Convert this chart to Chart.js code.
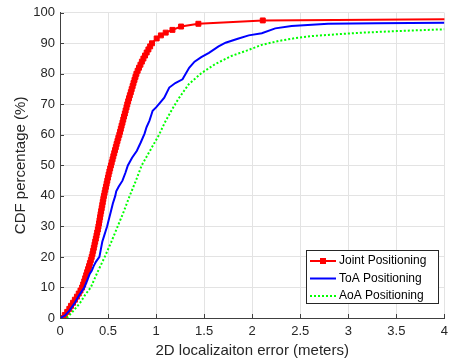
<!DOCTYPE html>
<html>
<head>
<meta charset="utf-8">
<script src="https://cdn.jsdelivr.net/npm/chart.js"></script>
<style>
  body { margin: 0; background: #fff; }
</style>
</head>
<body>
<canvas id="cdfChart" width="454" height="360"></canvas>
<script>
const jointColor = "#ff0000"
const toaColor = "#0000ff"
const aoaColor = "#00ff00"
const gridColor = "#e3e3e3"
const axisColor = "#404040"
const textColor = "#262626"

// Joint positioning CDF (error in meters, percentage)
const jointX = [0, 0.05, 0.075, 0.097, 0.115, 0.136, 0.155, 0.176, 0.195, 0.213,
    0.23, 0.241, 0.252, 0.262, 0.272, 0.282, 0.292, 0.302, 0.311, 0.321,
    0.33, 0.338, 0.345, 0.352, 0.359, 0.366, 0.373, 0.38, 0.387, 0.394,
    0.40, 0.406, 0.411, 0.417, 0.422, 0.428, 0.434, 0.44, 0.445, 0.451,
    0.457, 0.464, 0.471, 0.478, 0.485, 0.492, 0.499, 0.506, 0.514, 0.522,
    0.53, 0.538, 0.547, 0.555, 0.564, 0.572, 0.581, 0.589, 0.598, 0.607,
    0.617, 0.625, 0.633, 0.641, 0.65, 0.658, 0.666, 0.675, 0.683, 0.692,
    0.70, 0.709, 0.718, 0.727, 0.737, 0.746, 0.756, 0.765, 0.775, 0.785,
    0.795, 0.808, 0.822, 0.837, 0.852, 0.868, 0.885, 0.902, 0.92, 0.938,
    0.957, 1.006, 1.05, 1.10, 1.17, 1.26, 1.44, 2.11, 4.6]
const jointY = [0, 1, 2, 3, 4, 5, 6, 7, 8, 9,
    10, 11, 12, 13, 14, 15, 16, 17, 18, 19,
    20, 21, 22, 23, 24, 25, 26, 27, 28, 29,
    30, 31, 32, 33, 34, 35, 36, 37, 38, 39,
    40, 41, 42, 43, 44, 45, 46, 47, 48, 49,
    50, 51, 52, 53, 54, 55, 56, 57, 58, 59,
    60, 61, 62, 63, 64, 65, 66, 67, 68, 69,
    70, 71, 72, 73, 74, 75, 76, 77, 78, 79,
    80, 81, 82, 83, 84, 85, 86, 87, 88, 89,
    90, 91.6, 92.6, 93.5, 94.4, 95.5, 96.4, 97.5, 98.0]

// ToA positioning CDF
const toaX = [0, 0.05, 0.10, 0.155, 0.2, 0.253, 0.285, 0.31, 0.33, 0.35, 0.375, 0.41, 0.425, 0.44, 0.46, 0.475, 0.49, 0.51, 0.53, 0.55, 0.575, 0.585, 0.61, 0.65, 0.68, 0.706, 0.75, 0.80, 0.84, 0.88, 0.90, 0.93, 0.95, 0.964, 1.0, 1.04, 1.085, 1.137, 1.2, 1.275, 1.344, 1.40, 1.47, 1.55, 1.65, 1.723, 1.85, 1.964, 2.1, 2.24, 2.41, 2.79, 3.3, 4]
const toaY = [0, 0.8, 2.5, 5, 7.5, 10, 12.5, 14.5, 15.5, 17, 18.5, 20, 22.5, 25, 27, 28.5, 30, 32.5, 35, 37.5, 40, 41.5, 43, 45, 47.5, 50, 52.5, 54.8, 57.5, 60.4, 62.5, 64.6, 66.5, 67.9, 69, 70.5, 72.2, 75.5, 77, 78.2, 82, 84, 85.5, 86.9, 89, 90.2, 91.5, 92.6, 93.3, 94.9, 95.7, 96.4, 96.6, 96.7]

// AoA positioning CDF
const aoaX = [0.07, 0.13, 0.21, 0.26, 0.32, 0.39, 0.465, 0.535, 0.60, 0.665, 0.725, 0.79, 0.85, 0.94, 1.03, 1.09, 1.16, 1.23, 1.34, 1.47, 1.61, 1.78, 1.95, 2.1, 2.28, 2.45, 2.63, 2.9, 3.15, 3.5, 4]
const aoaY = [0, 2, 5, 7.5, 10, 15, 20, 25, 30, 35, 40, 45, 50, 55, 60, 64, 68, 71.7, 76.6, 80.2, 83.1, 85.8, 87.7, 89.5, 90.8, 91.7, 92.4, 93, 93.5, 94, 94.6]

const toPoints = (xs, ys) => xs.map((x, i) => ({ x: x, y: ys[i] }))

// short tick marks pointing into the plot (matlab style)
const innerTicks = {
    id: 'innerTicks',
    afterDatasetsDraw(chart) {
        const ctx = chart.ctx
        const area = chart.chartArea
        const xs = chart.scales.x, ys = chart.scales.y
        ctx.save()
        ctx.strokeStyle = axisColor
        ctx.lineWidth = 1
        ctx.beginPath()
        xs.ticks.forEach(t => {
            const px = Math.round(xs.getPixelForValue(t.value)) + 0.5
            ctx.moveTo(px, area.bottom)
            ctx.lineTo(px, area.bottom - 4)
        })
        ys.ticks.forEach(t => {
            const py = Math.round(ys.getPixelForValue(t.value)) + 0.5
            ctx.moveTo(area.left, py)
            ctx.lineTo(area.left + 4, py)
        })
        ctx.stroke()
        ctx.restore()
    }
}

// legend drawn inside the plot, lower right, with a box
const boxLegend = {
    id: 'boxLegend',
    afterDraw(chart) {
        const ctx = chart.ctx
        const left = 306, top = 250, w = 132, h = 53
        ctx.save()
        ctx.fillStyle = '#ffffff'
        ctx.fillRect(left, top, w, h)
        ctx.strokeStyle = textColor
        ctx.lineWidth = 1
        ctx.strokeRect(left + 0.5, top + 0.5, w, h)
        chart.data.datasets.forEach((ds, i) => {
            const y = top + 11 + i * 17.5
            ctx.strokeStyle = ds.borderColor
            ctx.lineWidth = ds.borderWidth
            ctx.setLineDash(ds.borderDash || [])
            ctx.beginPath()
            ctx.moveTo(left + 4, y)
            ctx.lineTo(left + 30, y)
            ctx.stroke()
            ctx.setLineDash([])
            if (ds.pointRadius > 0) {
                ctx.fillStyle = ds.pointBackgroundColor
                ctx.fillRect(left + 14, y - 3, 6, 6)
            }
            ctx.fillStyle = '#000000'
            ctx.font = '12px "Liberation Sans", Arial, sans-serif'
            ctx.textBaseline = 'middle'
            ctx.fillText(ds.label, left + 33, y)
        })
        ctx.restore()
    }
}

Chart.defaults.font.family = '"Liberation Sans", Arial, sans-serif'

const cdfChart = new Chart(document.getElementById("cdfChart"), {
    type: 'scatter',
    data: {
        datasets: [{
            label: 'Joint Positioning',
            data: toPoints(jointX, jointY),
            showLine: true,
            borderColor: jointColor,
            borderWidth: 2,
            pointStyle: 'rect',
            pointRadius: 3.5,
            pointBorderWidth: 1,
            pointBackgroundColor: jointColor,
            pointBorderColor: jointColor,
            order: 3
        }, {
            label: 'ToA Positioning',
            data: toPoints(toaX, toaY),
            showLine: true,
            borderColor: toaColor,
            borderWidth: 2,
            pointRadius: 0,
            order: 2
        }, {
            label: 'AoA Positioning',
            data: toPoints(aoaX, aoaY),
            showLine: true,
            borderColor: aoaColor,
            borderWidth: 2,
            borderDash: [2, 2],
            pointRadius: 0,
            order: 1
        }]
    },
    options: {
        responsive: false,
        animation: false,
        layout: { padding: { top: 12, right: 6, left: 0, bottom: 0 } },
        plugins: {
            legend: { display: false },
            tooltip: { enabled: false }
        },
        scales: {
            x: {
                type: 'linear',
                min: 0,
                max: 4,
                ticks: {
                    stepSize: 0.5,
                    color: textColor,
                    font: { size: 13 },
                    padding: 6,
                    callback: (value) => String(Math.round(value * 10) / 10)
                },
                grid: { color: gridColor, drawTicks: false },
                border: { color: axisColor },
                title: { display: true, text: '2D localizaiton error (meters)', color: textColor, font: { size: 15 }, padding: { top: 0, bottom: 0 } },
                afterFit(scale) { scale.height = 42 }
            },
            y: {
                min: 0,
                max: 100,
                ticks: { stepSize: 10, color: textColor, font: { size: 13 }, padding: 5 },
                grid: { color: gridColor, drawTicks: false },
                border: { color: axisColor },
                title: { display: true, text: 'CDF percentage (%)', color: textColor, font: { size: 15 }, padding: { top: 12, bottom: 0 } },
                afterFit(scale) { scale.width = 60 }
            }
        }
    },
    plugins: [innerTicks, boxLegend]
})
</script>
</body>
</html>
